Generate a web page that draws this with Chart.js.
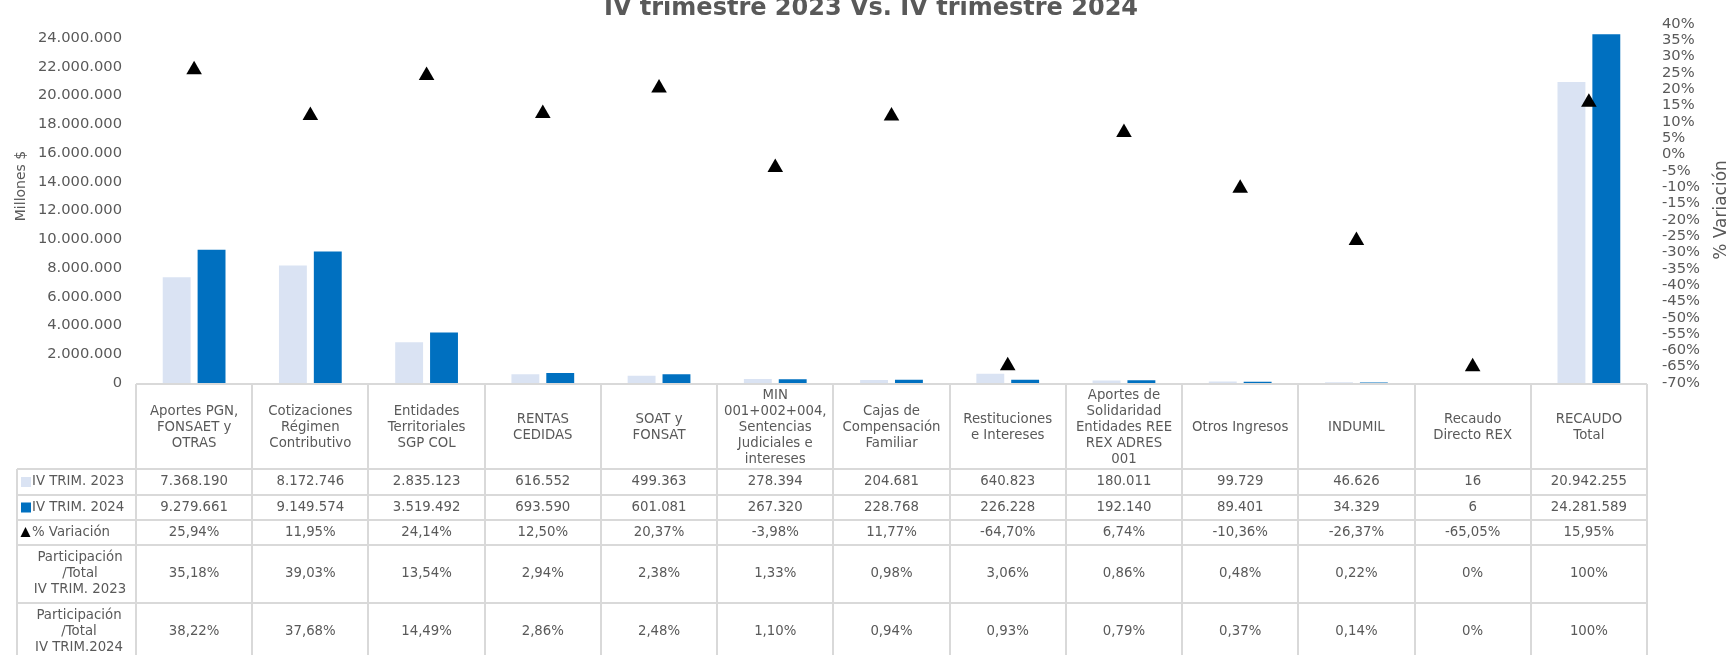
<!DOCTYPE html>
<html>
<head>
<meta charset="utf-8">
<script src="https://cdn.jsdelivr.net/npm/chart.js@4.4.1/dist/chart.umd.min.js"></script>
<style>
html, body { margin: 0; padding: 0; background: #fff; }
canvas { display: block; }
</style>
</head>
<body>
<canvas id="recaudoChart" width="1727" height="655"></canvas>
<script>
// ---- datos ----
const categorias = [
  ["Aportes PGN,", "FONSAET y", "OTRAS"],
  ["Cotizaciones", "Régimen", "Contributivo"],
  ["Entidades", "Territoriales", "SGP COL"],
  ["RENTAS", "CEDIDAS"],
  ["SOAT y", "FONSAT"],
  ["MIN", "001+002+004,", "Sentencias", "Judiciales e", "intereses"],
  ["Cajas de", "Compensación", "Familiar"],
  ["Restituciones", "e Intereses"],
  ["Aportes de", "Solidaridad", "Entidades REE", "REX ADRES", "001"],
  ["Otros Ingresos"],
  ["INDUMIL"],
  ["Recaudo", "Directo REX"],
  ["RECAUDO", "Total"]
];

const trim2023 = [7368190, 8172746, 2835123, 616552, 499363, 278394, 204681, 640823, 180011, 99729, 46626, 16, 20942255];
const trim2024 = [9279661, 9149574, 3519492, 693590, 601081, 267320, 228768, 226228, 192140, 89401, 34329, 6, 24281589];
const variacion = [25.94, 11.95, 24.14, 12.50, 20.37, -3.98, 11.77, -64.70, 6.74, -10.36, -26.37, -65.05, 15.95];
const part2023 = [35.18, 39.03, 13.54, 2.94, 2.38, 1.33, 0.98, 3.06, 0.86, 0.48, 0.22, 0, 100];
const part2024 = [38.22, 37.68, 14.49, 2.86, 2.48, 1.10, 0.94, 0.93, 0.79, 0.37, 0.14, 0, 100];

// ejes
const rangoMillones = [0, 25000000];
const ticksMillones = [0, 2000000, 4000000, 6000000, 8000000, 10000000, 12000000,
  14000000, 16000000, 18000000, 20000000, 22000000, 24000000];
const rangoVariacion = [-70, 40];
const ticksVariacion = [-70, -65, -60, -55, -50, -45, -40, -35, -30, -25, -20, -15,
  -10, -5, 0, 5, 10, 15, 20, 25, 30, 35, 40];

const COLOR_2023 = "#DAE3F3";
const COLOR_2024 = "#0070C0";
const GRIS_TEXTO = "#595959";
const GRIS_LINEA = "#D9D9D9";
const FUENTE = "'DejaVu Sans', Verdana, sans-serif";

function miles(n) {
  return String(n).replace(/\B(?=(\d{3})+(?!\d))/g, ".");
}
function pct(v) {
  return v.toFixed(2).replace(".", ",") + "%";
}
function pctPart(v) {
  return Number.isInteger(v) ? v + "%" : pct(v);
}

// ---- titulo y titulos de ejes ----
const textosPlugin = {
  id: "textos",
  afterDraw(chart) {
    const ctx = chart.ctx;
    ctx.save();
    ctx.fillStyle = GRIS_TEXTO;
    ctx.font = "bold 24px " + FUENTE;
    ctx.textAlign = "center";
    ctx.textBaseline = "alphabetic";
    ctx.fillText("IV trimestre 2023 Vs. IV trimestre 2024", 871, 15);

    const vertical = (texto, px, py, size) => {
      ctx.save();
      ctx.font = size + "px " + FUENTE;
      ctx.translate(px, py);
      ctx.rotate(-Math.PI / 2);
      ctx.fillText(texto, 0, 0);
      ctx.restore();
    };
    vertical("Millones $", 25, 186, 14);
    vertical("% Variación", 1726, 210, 17);
    ctx.restore();
  }
};

// ---- tabla de datos bajo el grafico ----
const tablaPlugin = {
  id: "tablaDatos",
  afterDraw(chart) {
    const ctx = chart.ctx;
    const x = chart.scales.x;
    const area = chart.chartArea;
    const n = categorias.length;
    const colW = (area.right - area.left) / n;
    const izq = 17;
    const filas = [area.bottom + 1, 469, 495, 520, 545, 603, 661];

    ctx.save();
    ctx.strokeStyle = GRIS_LINEA;
    ctx.lineWidth = 2;
    ctx.beginPath();
    // lineas horizontales
    ctx.moveTo(area.left, filas[0]); ctx.lineTo(area.right, filas[0]);
    for (let r = 1; r < filas.length; r++) {
      ctx.moveTo(izq, filas[r]); ctx.lineTo(area.right, filas[r]);
    }
    // lineas verticales
    ctx.moveTo(izq, filas[1]); ctx.lineTo(izq, filas[6]);
    for (let i = 0; i <= n; i++) {
      const px = Math.round(area.left + i * colW);
      ctx.moveTo(px, filas[0]); ctx.lineTo(px, filas[6]);
    }
    ctx.stroke();

    ctx.fillStyle = GRIS_TEXTO;
    ctx.font = "13.3px " + FUENTE;
    ctx.textAlign = "center";
    ctx.textBaseline = "middle";

    const centroFila = r => (filas[r] + filas[r + 1]) / 2;
    const lineas = (lista, cx, cy) => {
      const h = 16;
      const y0 = cy - (lista.length - 1) * h / 2;
      lista.forEach((t, k) => ctx.fillText(t, cx, y0 + k * h));
    };

    categorias.forEach((cat, i) => {
      const cx = x.getPixelForValue(i);
      lineas(cat, cx, centroFila(0) + 1);
      ctx.fillText(miles(trim2023[i]), cx, centroFila(1));
      ctx.fillText(miles(trim2024[i]), cx, centroFila(2));
      ctx.fillText(pct(variacion[i]), cx, centroFila(3));
      ctx.fillText(pctPart(part2023[i]), cx, centroFila(4));
      ctx.fillText(pctPart(part2024[i]), cx, centroFila(5));
    });

    // rotulos de filas con su clave
    ctx.fillStyle = COLOR_2023;
    ctx.fillRect(21, centroFila(1) - 5, 10, 10);
    ctx.fillStyle = COLOR_2024;
    ctx.fillRect(21, centroFila(2) - 5, 10, 10);
    ctx.fillStyle = "#000";
    const ty = centroFila(3);
    ctx.beginPath();
    ctx.moveTo(25.5, ty - 5.5);
    ctx.lineTo(30.5, ty + 4.5);
    ctx.lineTo(20.5, ty + 4.5);
    ctx.closePath();
    ctx.fill();

    ctx.fillStyle = GRIS_TEXTO;
    ctx.textAlign = "left";
    ctx.fillText("IV TRIM. 2023", 32, centroFila(1));
    ctx.fillText("IV TRIM. 2024", 32, centroFila(2));
    ctx.fillText("% Variación", 32, centroFila(3));
    ctx.textAlign = "center";
    lineas(["Participación", "/Total", "IV TRIM. 2023"], 80, centroFila(4));
    lineas(["Participación", "/Total", "IV TRIM.2024"], 79, centroFila(5));
    ctx.restore();
  }
};

const ctx = document.getElementById("recaudoChart");

new Chart(ctx, {
  data: {
    labels: categorias,
    datasets: [
      {
        type: "line",
        label: "% Variación",
        data: variacion,
        yAxisID: "y1",
        showLine: false,
        pointStyle: "triangle",
        pointRadius: 9,
        pointHoverRadius: 9,
        pointBackgroundColor: "#000",
        pointBorderColor: "#000",
        pointBorderWidth: 0,
        order: 0
      },
      {
        type: "bar",
        label: "IV TRIM. 2023",
        data: trim2023,
        yAxisID: "y",
        backgroundColor: COLOR_2023,
        categoryPercentage: 0.6,
        barPercentage: 0.8,
        order: 1
      },
      {
        type: "bar",
        label: "IV TRIM. 2024",
        data: trim2024,
        yAxisID: "y",
        backgroundColor: COLOR_2024,
        categoryPercentage: 0.6,
        barPercentage: 0.8,
        order: 1
      }
    ]
  },
  options: {
    responsive: false,
    animation: false,
    devicePixelRatio: 1,
    layout: { padding: { top: 18, bottom: 272, left: 0, right: 0 } },
    plugins: {
      legend: { display: false },
      tooltip: { enabled: false },
      title: { display: false }
    },
    scales: {
      x: { display: false },
      y: {
        position: "left",
        bounds: "data",
        min: rangoMillones[0],
        max: rangoMillones[1],
        grid: { display: false, drawTicks: false },
        border: { display: false },
        ticks: {
          padding: 14,
          autoSkip: false,
          color: GRIS_TEXTO,
          font: { family: FUENTE, size: 14.7 },
          callback: v => miles(v)
        },
        afterBuildTicks: s => { s.ticks = ticksMillones.map(v => ({ value: v })); },
        afterFit: s => { s.width = 136; }
      },
      y1: {
        position: "right",
        bounds: "data",
        min: rangoVariacion[0],
        max: rangoVariacion[1],
        grid: { display: false, drawTicks: false },
        border: { display: false },
        ticks: {
          padding: 15,
          autoSkip: false,
          color: GRIS_TEXTO,
          font: { family: FUENTE, size: 14.7 },
          callback: v => v + "%"
        },
        afterBuildTicks: s => { s.ticks = ticksVariacion.map(v => ({ value: v })); },
        afterFit: s => { s.width = 80; }
      }
    }
  },
  plugins: [tablaPlugin, textosPlugin]
});
</script>
</body>
</html>
